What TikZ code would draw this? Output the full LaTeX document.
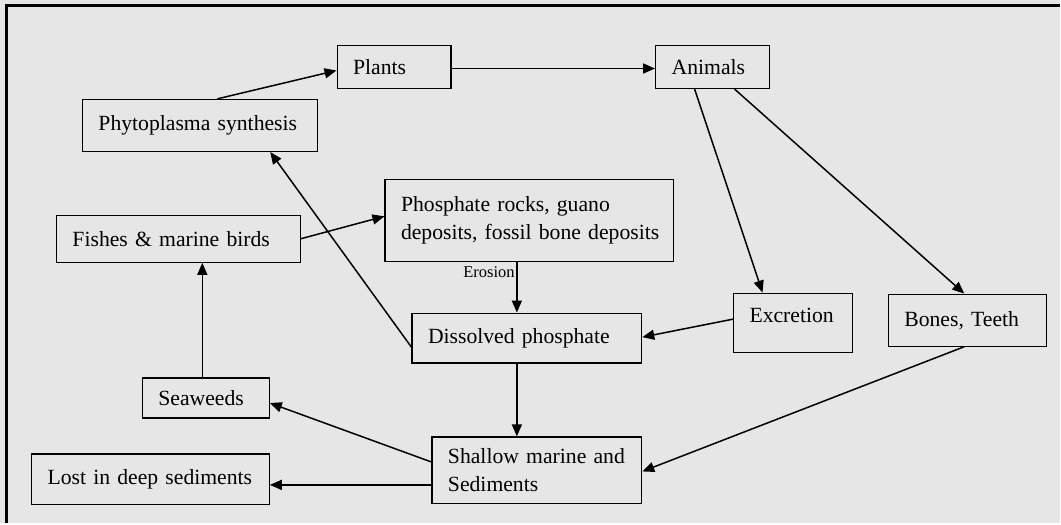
\documentclass[tikz,border=0pt]{standalone}
\usepackage{fontspec}
\setmainfont{Liberation Serif}
\usetikzlibrary{arrows.meta}
\definecolor{panelgray}{HTML}{E6E6E6}
\hyphenpenalty=10000
\begin{document}
\begin{tikzpicture}[x=1pt, y=-1pt,
    box/.style={draw, line width=1.2pt, anchor=north west, align=left,
      inner xsep=16pt, inner ysep=0pt, font=\fontsize{21.7}{28}\selectfont},
    flow/.style={line width=1.5pt, -{Triangle[length=12pt,width=10pt]}}]
  \fill[panelgray] (0,0) rectangle (1061,524);
  \draw[line width=3pt] (7,524) -- (7,6) -- (1061,6);
  % boxes
  \node[box, text width=82pt, minimum height=43pt] (plants) at (337,45) {Plants};
  \node[box, text width=82pt, minimum height=43pt] (animals) at (656,45) {Animals};
  \node[box, text width=203pt, minimum height=52pt] (phyto) at (82,99) {Phytoplasma synthesis};
  \node[box, text width=257pt, minimum height=82pt] (rocks) at (385,179) {Phosphate rocks, guano\\deposits,~fossil~bone~deposits};
  \node[box, text width=212pt, minimum height=47pt] (fishes) at (56,215) {Fishes \& marine birds};
  \node[box, text width=198pt, minimum height=50pt] (dissolved) at (412,313) {Dissolved phosphate};
  \node[box, text width=87pt, minimum height=59pt, text depth=14pt] (excretion) at (734,293) {Excretion};
  \node[box, text width=126pt, minimum height=52pt] (bones) at (889,294) {Bones, Teeth};
  \node[box, text width=95pt, minimum height=40pt] (seaweeds) at (142,378) {Seaweeds};
  \node[box, text width=206pt, minimum height=51pt] (lost) at (31,454) {Lost~in~deep~sediments};
  \node[box, text width=178pt, minimum height=67pt] (shallow) at (432,437) {Shallow~marine~and\\Sediments};
  % arrows
  \draw[flow] ([xshift=17.5pt]phyto.north) -- ([yshift=-3.5pt]plants.west);
  \draw[flow] ([yshift=-1.5pt]plants.east) -- ([yshift=-1.5pt]animals.west);
  \draw[flow] ([xshift=-18pt]animals.south) -- ([xshift=-30.5pt]excretion.north);
  \draw[flow] ([xshift=22pt]animals.south) -- ([xshift=-3pt]bones.north);
  \draw[flow] ([yshift=3.5pt]excretion.west) -- ([yshift=1pt]dissolved.east);
  \draw[flow] ([xshift=-3pt]bones.south) -- ([yshift=-1pt]shallow.east);
  \draw[flow] ([yshift=-9pt]dissolved.west) -- ([xshift=70.5pt]phyto.south);
  \draw[flow] (fishes.east) -- ([yshift=4pt]rocks.west);
  \draw[flow] ([xshift=-3.5pt]seaweeds.north) -- ([xshift=-3.5pt]seaweeds.north |- fishes.south);
  \draw[flow] ([xshift=-12.5pt]rocks.south) -- ([xshift=-12.5pt]rocks.south |- dissolved.north)
    node[pos=0.2, left, inner sep=1.5pt, font=\fontsize{16.5}{18}\selectfont] (erosion) {Erosion};
  \draw[flow] ([xshift=-10pt]dissolved.south) -- ([xshift=-10pt]dissolved.south |- shallow.north);
  \draw[flow] ([yshift=8.5pt]shallow.west) -- ([yshift=-5pt]seaweeds.east);
  \draw[flow] ([yshift=-14.5pt]shallow.west) -- ([yshift=-14.5pt]shallow.west -| lost.east);
\end{tikzpicture}
\end{document}
